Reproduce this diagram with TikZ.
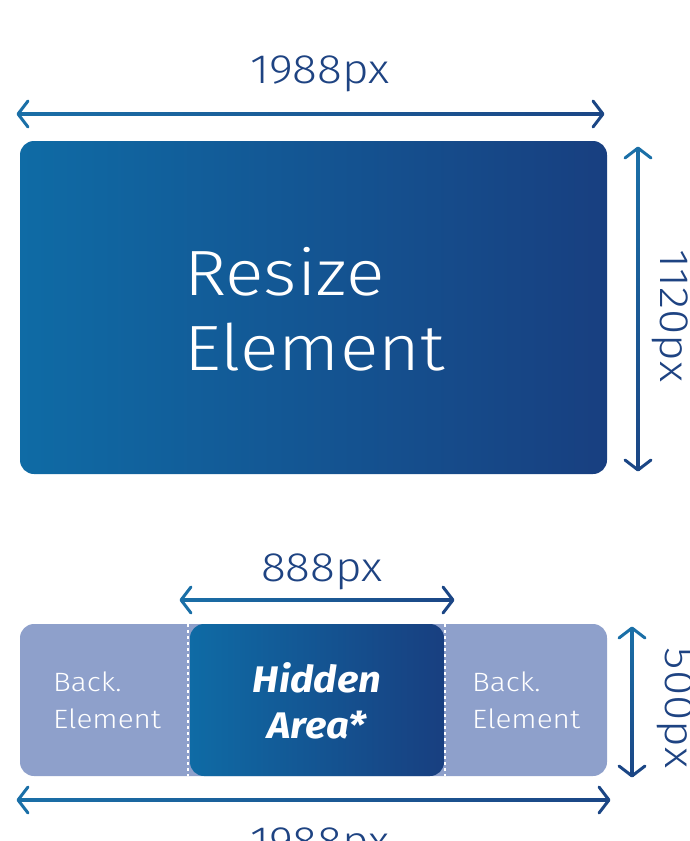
\documentclass[tikz,border=0pt]{standalone}
\usepackage{fontspec}
\setmainfont{Fira Sans}[FakeStretch=1.08]
\newfontfamily\lightf{Fira Sans Light}[FakeStretch=1.12]
\definecolor{arA}{HTML}{1A6FA7}
\definecolor{arB}{HTML}{1B4685}
\definecolor{txt}{HTML}{1E4382}
\definecolor{gA}{HTML}{0F6BA5}
\definecolor{gB}{HTML}{183F80}
\definecolor{back}{HTML}{8EA0CB}
\tikzset{
  arhead/.style={line width=3pt, line cap=round, line join=round},
  dimlabel/.style={text=txt, font=\lightf\fontsize{41}{50}\selectfont, inner sep=0pt},
  backlabel/.style={text=white, font=\lightf\fontsize{26.5}{36}\selectfont, align=left, inner sep=0pt, anchor=base west},
  biglabel/.style={text=white, font=\lightf\fontsize{64}{75}\selectfont, anchor=base west, inner sep=0pt},
  hidlabel/.style={text=white, font=\bfseries\itshape\fontsize{37}{46}\selectfont, anchor=base, inner sep=0pt},
}
\newcommand\harrow[3]{%
  \shade[left color=arA,right color=arB] (#2,#1-1.5) rectangle (#3,#1+1.5);
  \draw[arhead,arA] (#2+10,#1-13) -- (#2,#1) -- (#2+10,#1+13);
  \draw[arhead,arB] (#3-10,#1-13) -- (#3,#1) -- (#3-10,#1+13);}
\newcommand\varrow[3]{%
  \shade[top color=arA,bottom color=arB] (#1-1.5,#2) rectangle (#1+1.5,#3);
  \draw[arhead,arA] (#1-13,#2+10) -- (#1,#2) -- (#1+13,#2+10);
  \draw[arhead,arB] (#1-13,#3-10) -- (#1,#3) -- (#1+13,#3-10);}
\begin{document}
\begin{tikzpicture}[x=1pt,y=-1pt]
\useasboundingbox (0,0) rectangle (689,841);
\clip (0,0) rectangle (689,841);
% top section
\node[dimlabel, anchor=base] (w1) at (320,83) {1988px};
\harrow{114}{18}{603}
\shade[rounded corners=14pt, left color=gA, right color=gB] (20,141) rectangle (607,474);
\node[biglabel] (r1) at (184,295) {Resize};
\node[biglabel] (r2) at (184,370) {Element};
\varrow{638}{148}{470}
\node[dimlabel, anchor=base, rotate=-90] (h1) at (660,316) {1120px};
% bottom section
\node[dimlabel, anchor=base] (w2) at (322,581) {888px};
\harrow{600}{181}{453}
\fill[back, rounded corners=14pt] (20,624) rectangle (607,776);
\shade[rounded corners=14pt, left color=gA, right color=gB] (190,624) rectangle (444,776);
\draw[white, line width=1.3pt, dash pattern=on 3pt off 3pt] (188,624) -- (188,776);
\draw[white, line width=1.3pt, dash pattern=on 3pt off 3pt] (445,624) -- (445,776);
\node[backlabel] (bl1) at (53,691) {Back.};
\node[backlabel] (bl2) at (53,728) {Element};
\node[backlabel] (br1) at (472,691) {Back.};
\node[backlabel] (br2) at (472,728) {Element};
\node[hidlabel] (ha1) at (317,692) {Hidden};
\node[hidlabel] (ha2) at (317,738) {Area*};
\varrow{632}{628}{776}
\node[dimlabel, anchor=base, rotate=-90] (h2) at (665,708) {500px};
\harrow{800}{18}{609}
\node[dimlabel, anchor=base] (w3) at (320,855) {1988px};
\end{tikzpicture}
\end{document}
